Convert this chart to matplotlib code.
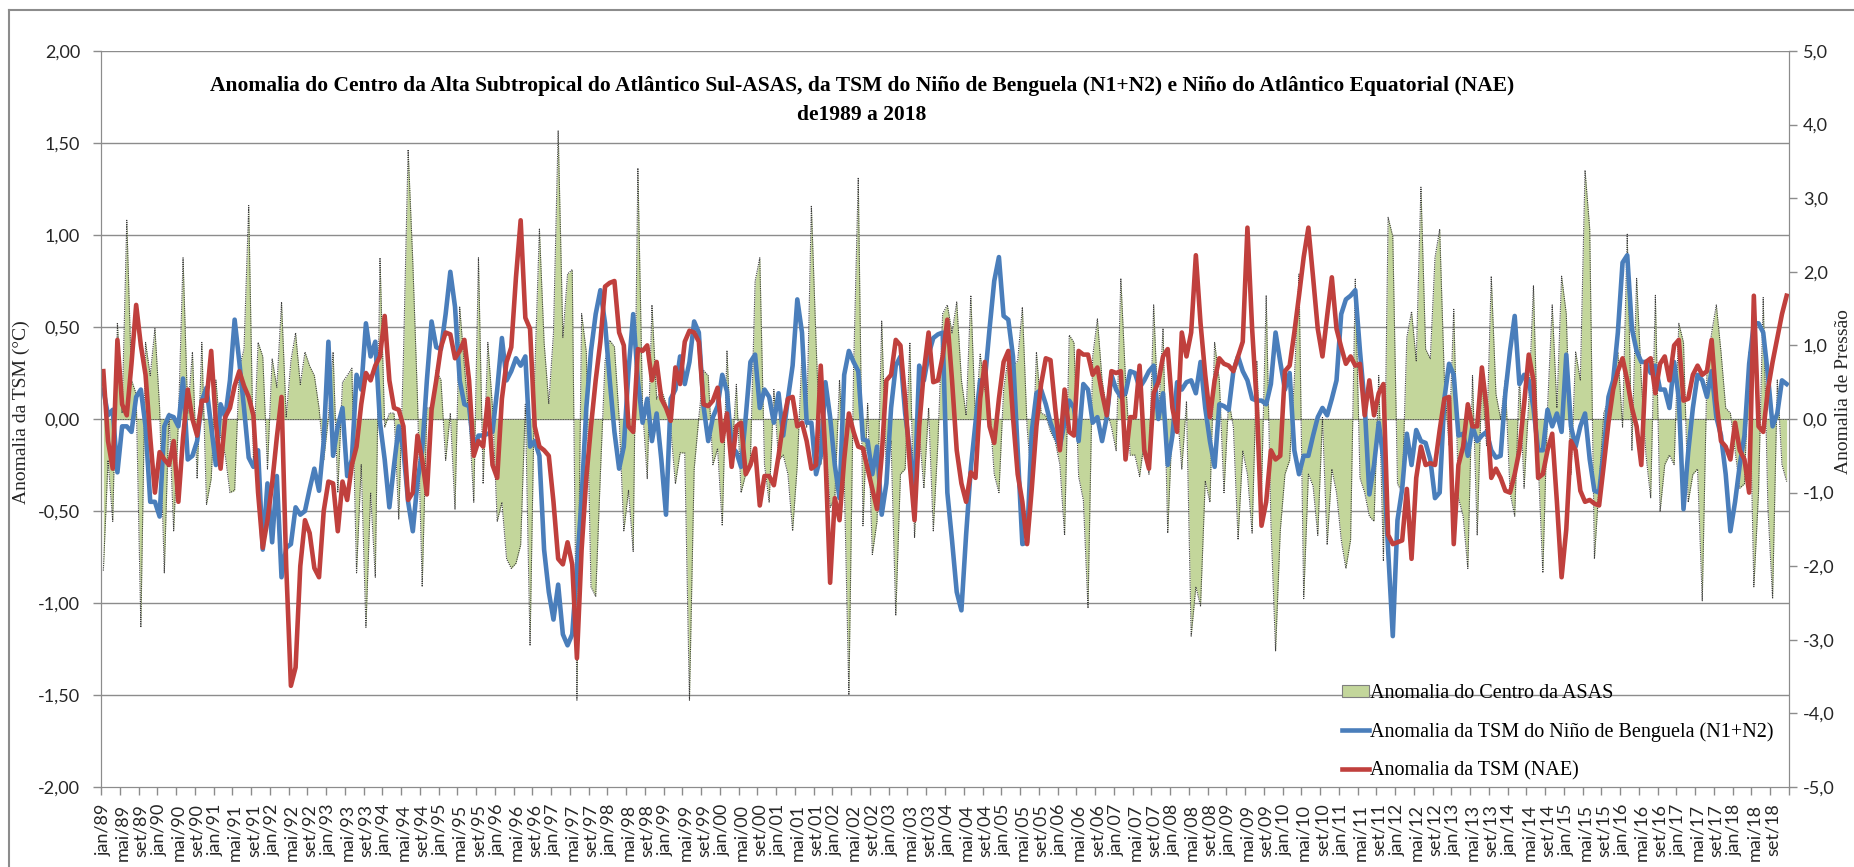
import matplotlib
matplotlib.use("Agg")
import matplotlib.pyplot as plt
import numpy as np
from matplotlib.ticker import FixedLocator, FuncFormatter

# monthly anomalies jan/1989 .. dez/2018, one row per year
nae = [
    0.26, -0.12, -0.27, 0.43, 0.08, 0.02, 0.30, 0.62, 0.40, 0.24, -0.10, -0.40,
    -0.18, -0.22, -0.25, -0.12, -0.45, -0.10, 0.16, 0.00, -0.09, 0.10, 0.10, 0.37,
    -0.02, -0.27, 0.01, 0.06, 0.18, 0.26, 0.18, 0.12, 0.02, -0.40, -0.70, -0.55,
    -0.35, -0.10, 0.12, -0.80, -1.45, -1.35, -0.80, -0.55, -0.62, -0.81, -0.86, -0.50,
    -0.34, -0.35, -0.61, -0.34, -0.44, -0.25, -0.15, 0.08, 0.25, 0.21, 0.29, 0.34,
    0.56, 0.21, 0.06, 0.05, -0.04, -0.44, -0.40, -0.09, -0.22, -0.41, 0.05, 0.21,
    0.39, 0.47, 0.46, 0.33, 0.37, 0.43, 0.21, -0.20, -0.12, -0.15, 0.11, -0.25,
    -0.32, 0.11, 0.31, 0.39, 0.77, 1.08, 0.55, 0.49, -0.04, -0.15, -0.17, -0.20,
    -0.45, -0.76, -0.79, -0.67, -0.79, -1.30, -0.71, -0.32, -0.04, 0.21, 0.42, 0.72,
    0.74, 0.75, 0.47, 0.40, -0.04, -0.07, 0.38, 0.37, 0.40, 0.21, 0.31, 0.11,
    0.06, -0.01, 0.28, 0.19, 0.42, 0.48, 0.47, 0.42, 0.08, 0.07, 0.10, 0.17,
    -0.12, 0.03, -0.26, -0.04, -0.02, -0.30, -0.25, -0.16, -0.47, -0.31, -0.31, -0.36,
    -0.20, -0.02, 0.11, 0.12, -0.04, -0.02, -0.12, -0.27, -0.25, 0.29, -0.20, -0.89,
    -0.43, -0.55, -0.22, 0.03, -0.07, -0.15, -0.16, -0.27, -0.38, -0.49, -0.20, 0.21,
    0.24, 0.43, 0.40, 0.11, -0.25, -0.55, -0.04, 0.26, 0.47, 0.20, 0.21, 0.34,
    0.54, 0.21, -0.17, -0.35, -0.45, -0.29, -0.32, 0.11, 0.31, -0.04, -0.13, 0.11,
    0.31, 0.37, 0.01, -0.30, -0.45, -0.68, -0.38, -0.04, 0.19, 0.33, 0.32, 0.06,
    -0.17, 0.16, -0.07, -0.09, 0.37, 0.35, 0.35, 0.24, 0.28, 0.14, 0.02, 0.26,
    0.25, 0.26, -0.22, 0.01, 0.01, 0.29, -0.17, -0.27, 0.14, 0.20, 0.34, 0.38,
    0.06, -0.07, 0.47, 0.34, 0.47, 0.89, 0.52, 0.24, 0.01, 0.21, 0.33, 0.30,
    0.29, 0.26, 0.34, 0.42, 1.04, 0.49, 0.08, -0.58, -0.45, -0.17, -0.22, -0.20,
    0.26, 0.29, 0.47, 0.67, 0.88, 1.04, 0.77, 0.49, 0.34, 0.56, 0.77, 0.49,
    0.39, 0.30, 0.34, 0.29, 0.30, 0.02, 0.21, 0.02, 0.14, 0.19, -0.63, -0.68,
    -0.67, -0.66, -0.38, -0.76, -0.32, -0.15, -0.25, -0.24, -0.25, -0.06, 0.11, 0.12,
    -0.68, -0.25, -0.15, 0.08, -0.04, -0.04, 0.28, 0.06, -0.32, -0.27, -0.32, -0.39,
    -0.40, -0.30, -0.17, 0.08, 0.35, 0.21, -0.32, -0.30, -0.17, -0.08, -0.45, -0.86,
    -0.60, -0.12, -0.17, -0.39, -0.45, -0.44, -0.46, -0.47, -0.25, -0.02, 0.16, 0.26,
    0.33, 0.21, 0.06, -0.04, -0.25, 0.31, 0.33, 0.14, 0.30, 0.34, 0.21, 0.40,
    0.43, 0.10, 0.11, 0.24, 0.29, 0.24, 0.26, 0.43, 0.10, -0.12, -0.15, -0.22,
    -0.02, -0.17, -0.22, -0.40, 0.67, -0.04, -0.07, 0.16, 0.31, 0.44, 0.57, 0.67,
]

n1n2 = [
    0.16, 0.02, 0.05, -0.29, -0.04, -0.04, -0.07, 0.12, 0.16, -0.04, -0.45, -0.45,
    -0.53, -0.04, 0.02, 0.01, -0.04, 0.22, -0.22, -0.20, -0.12, 0.10, 0.17, -0.04,
    -0.25, 0.08, 0.01, 0.21, 0.54, 0.31, 0.06, -0.21, -0.26, -0.17, -0.71, -0.35,
    -0.67, -0.31, -0.86, -0.70, -0.68, -0.48, -0.52, -0.50, -0.38, -0.27, -0.39, -0.12,
    0.42, -0.20, -0.04, 0.06, -0.31, -0.22, 0.24, 0.16, 0.52, 0.34, 0.42, -0.02,
    -0.22, -0.48, -0.25, -0.04, -0.17, -0.45, -0.61, -0.34, -0.17, 0.21, 0.53, 0.39,
    0.38, 0.57, 0.80, 0.61, 0.21, 0.08, 0.07, -0.17, -0.09, -0.09, -0.08, -0.07,
    0.16, 0.44, 0.21, 0.26, 0.33, 0.29, 0.34, -0.15, -0.12, -0.20, -0.71, -0.94,
    -1.09, -0.90, -1.17, -1.23, -1.17, -0.81, -0.43, 0.06, 0.37, 0.57, 0.70, 0.52,
    0.21, -0.07, -0.27, -0.15, 0.26, 0.57, 0.21, -0.02, 0.11, -0.12, 0.03, -0.22,
    -0.52, 0.11, 0.16, 0.34, 0.19, 0.31, 0.53, 0.47, 0.07, -0.12, 0.01, 0.07,
    0.24, 0.15, -0.15, -0.18, -0.26, 0.01, 0.31, 0.35, 0.06, 0.16, 0.12, -0.02,
    0.14, -0.09, 0.11, 0.29, 0.65, 0.47, -0.02, -0.02, -0.30, -0.20, 0.20, 0.01,
    -0.25, -0.43, 0.24, 0.37, 0.31, 0.26, -0.11, -0.12, -0.30, -0.15, -0.52, -0.35,
    0.06, 0.29, 0.34, 0.03, -0.17, -0.40, 0.29, 0.21, 0.35, 0.44, 0.46, 0.47,
    -0.40, -0.66, -0.94, -1.04, -0.63, -0.27, -0.02, 0.21, 0.21, 0.49, 0.75, 0.88,
    0.56, 0.54, 0.34, -0.17, -0.68, -0.67, -0.07, 0.14, 0.16, 0.08, -0.02, -0.09,
    -0.15, -0.02, 0.10, 0.06, -0.12, 0.19, 0.16, -0.02, 0.01, -0.12, 0.01, 0.24,
    0.16, 0.12, 0.14, 0.26, 0.25, 0.17, 0.21, 0.26, 0.29, 0.00, 0.14, -0.25,
    -0.09, 0.20, 0.16, 0.20, 0.21, 0.14, 0.31, 0.06, -0.12, -0.26, 0.08, 0.07,
    0.05, 0.26, 0.34, 0.26, 0.21, 0.11, 0.10, 0.10, 0.08, 0.19, 0.47, 0.31,
    0.16, 0.25, -0.17, -0.30, -0.20, -0.20, -0.09, 0.01, 0.06, 0.02, 0.11, 0.21,
    0.57, 0.65, 0.67, 0.70, 0.37, 0.08, -0.41, -0.25, -0.02, -0.22, -0.71, -1.18,
    -0.55, -0.38, -0.08, -0.25, -0.06, -0.12, -0.13, -0.22, -0.43, -0.40, 0.11, 0.30,
    0.24, -0.09, -0.08, -0.20, -0.04, -0.12, -0.09, -0.07, -0.17, -0.21, -0.20, 0.14,
    0.37, 0.56, 0.19, 0.24, 0.21, 0.06, -0.17, -0.17, 0.05, -0.04, 0.03, -0.07,
    0.35, -0.04, -0.15, -0.04, 0.03, -0.22, -0.39, -0.40, -0.17, 0.12, 0.21, 0.47,
    0.85, 0.89, 0.49, 0.37, 0.31, 0.31, 0.25, 0.29, 0.16, 0.16, 0.06, 0.31,
    0.11, -0.49, -0.18, 0.06, 0.24, 0.21, 0.12, 0.26, 0.01, -0.09, -0.30, -0.61,
    -0.45, -0.25, -0.09, 0.30, 0.52, 0.52, 0.47, 0.24, -0.04, 0.03, 0.21, 0.19,
]

asas = [
    -2.06, -0.56, -1.39, 1.31, 0.08, 2.70, 0.53, 0.34, -2.83, 1.04, 0.59, 1.23,
    0.15, -2.09, 0.08, -1.52, -0.04, 2.19, 0.08, 0.91, -0.81, 1.04, -1.16, -0.81,
    0.53, -0.24, -0.49, -1.00, -0.97, 0.69, 0.95, 2.90, -0.56, 1.04, 0.85, -0.68,
    0.82, 0.43, 1.59, 0.02, 0.79, 1.17, 0.47, 0.91, 0.72, 0.59, 0.15, -0.56,
    0.02, 0.91, -1.00, 0.50, 0.59, 0.69, -2.09, -0.62, -2.83, -1.00, -2.15, 2.19,
    -0.11, 0.08, 0.08, -1.36, 0.85, 3.66, 2.13, 0.27, -2.28, 0.15, 0.15, 0.66,
    0.53, -0.56, 0.08, -1.23, 1.52, 0.72, 0.02, -1.13, 2.19, -0.88, 1.04, 0.15,
    -1.39, -1.13, -1.90, -2.03, -1.96, -1.71, 0.20, -3.08, 0.60, 2.58, 1.04, 0.21,
    1.17, 3.92, 1.11, 1.97, 2.03, -3.82, 1.43, 0.91, -2.28, -2.41, -0.75, 0.79,
    1.07, 0.98, 0.02, -1.52, -0.97, -1.80, 3.41, 0.15, -0.81, 1.55, 0.27, 0.40,
    0.21, -0.11, -0.88, -0.46, -0.46, -3.82, -0.68, 0.02, 0.66, 0.59, -0.62, -0.40,
    -1.45, 0.93, -0.56, 0.47, -1.00, -0.75, -0.56, 1.87, 2.19, -0.62, -1.13, 0.40,
    -0.56, -0.49, -0.75, -1.52, -0.62, 0.91, -0.11, 2.90, 1.04, -0.62, -0.24, -1.20,
    -1.07, 0.53, -0.75, -3.75, 0.66, 3.28, -1.45, 0.21, -1.84, -1.39, 1.33, -0.75,
    -0.30, -2.67, -0.75, -0.68, 1.04, -1.61, -0.17, -0.94, 0.15, -1.52, -0.30, 1.43,
    1.55, 1.17, 1.59, 0.53, 0.05, 1.68, -0.04, 0.88, 0.40, 0.15, -0.75, -1.00,
    0.40, 0.85, 0.72, 0.79, 1.52, -0.11, -0.88, 0.91, 0.08, 0.05, -0.17, -0.30,
    -0.62, -1.58, 1.14, 1.04, -0.78, -1.10, -2.57, 0.85, 1.36, 0.53, 0.12, -0.11,
    -0.43, 1.91, 0.53, -0.49, -0.49, -0.78, -0.30, -0.75, 1.55, 0.00, 1.23, -1.55,
    0.00, 0.15, -0.68, 0.24, -2.95, -2.28, -2.54, -0.84, -1.13, 1.04, 0.53, -1.00,
    0.27, -0.11, -1.64, -0.43, -0.75, -1.55, 0.79, -1.00, 1.68, -1.39, -3.15, -1.52,
    -0.75, -0.56, 0.53, 1.97, -2.44, -0.75, -0.91, -1.58, 0.02, -1.71, -0.68, -1.00,
    -1.64, -2.03, -1.64, 1.90, -0.80, -1.00, -1.32, -1.39, 0.59, -1.93, 2.74, 2.48,
    -0.88, -1.00, 1.11, 1.46, 0.79, 3.15, 0.95, 0.82, 2.19, 2.58, 0.53, -0.36,
    1.49, -1.07, -1.32, -2.03, 0.59, -1.58, 0.59, -0.36, 1.94, 0.34, 0.00, 0.53,
    -1.00, -1.32, 0.59, -0.94, 0.24, 1.81, -0.56, -2.09, 0.15, 1.55, 0.15, 1.94,
    1.43, -0.75, 0.91, 0.53, 3.38, 2.58, -1.90, -0.88, 0.08, 0.27, 0.53, 0.91,
    -0.11, 2.51, -0.43, 1.91, 0.53, -0.49, -1.07, 1.68, -1.26, -0.62, -0.49, -0.62,
    1.30, 1.04, -1.13, -0.75, -0.68, -2.47, 0.66, 1.17, 1.55, 0.91, 0.15, 0.08,
    -0.43, -0.94, -0.88, 0.91, -2.28, -1.00, 1.65, -1.20, -2.44, 0.53, -0.62, -0.85,
]

meses = ["jan", "fev", "mar", "abr", "mai", "jun", "jul", "ago", "set", "out", "nov", "dez"]
anos = list(range(1989, 2019))
rotulos = [f"{m}/{a % 100:02d}" for a in anos for m in meses]

W, H = 1854, 867
fig = plt.figure(figsize=(W / 100, H / 100), dpi=100)
tick_font = "Lato"
serif = "Liberation Serif"

x = np.arange(len(nae))
ax = fig.add_axes([101 / W, 1 - 787 / H, (1789 - 101) / W, (787 - 51) / H])
ax2 = ax.twinx()
ax.set_zorder(ax2.get_zorder() + 1)
ax.patch.set_visible(False)

# gridlines behind the area (left-axis levels expressed on the right scale)
for g in np.arange(-1.5, 2.01, 0.5):
    ax2.axhline(g * 2.5, color="#8c8c8c", lw=1.0, zorder=0)

ax2.fill_between(x, 0, asas, facecolor="#c3d69b", edgecolor="#6e6e6e", lw=0, zorder=1,
                 label="Anomalia do Centro da ASAS")
ax2.plot(x, asas, color="#3a3a3a", lw=0.8, ls=(0, (1, 1)), zorder=2)
ax2.axhline(0, color="#3a3a3a", lw=0.6, ls=(0, (1, 1)), zorder=2)

ax.plot(x, n1n2, color="#4a7ebb", lw=3.3, solid_joinstyle="round",
        label="Anomalia da TSM do Niño de Benguela (N1+N2)")
ax.plot(x, nae, color="#c0403d", lw=3.3, solid_joinstyle="round",
        label="Anomalia da TSM (NAE)")

ax.set_xlim(-0.5, len(nae) - 0.5)
ax.set_ylim(-2, 2)
ax2.set_ylim(-5, 5)

virg2 = FuncFormatter(lambda v, p: f"{v:.2f}".replace(".", ","))
virg1 = FuncFormatter(lambda v, p: f"{v:.1f}".replace(".", ","))
ax.yaxis.set_major_locator(FixedLocator(np.arange(-2, 2.01, 0.5)))
ax.yaxis.set_major_formatter(virg2)
ax2.yaxis.set_major_locator(FixedLocator(np.arange(-5, 5.01, 1)))
ax2.yaxis.set_major_formatter(virg1)

# boundaries every 4 months carry tick marks, labels sit on the category
ax.xaxis.set_major_locator(FixedLocator(np.arange(-0.5, len(nae), 4)))
ax.set_xticklabels([])
ax.set_xticks(np.arange(0, len(nae), 4), minor=True)
ax.set_xticklabels(rotulos[::4], minor=True, rotation=90, fontsize=13,
                   family=tick_font, color="#262626")
ax.tick_params(axis="x", which="major", length=6, width=1, color="#8c8c8c", direction="out")
ax.tick_params(axis="x", which="minor", length=0, pad=12)
ax.tick_params(axis="y", length=6, width=1, color="#8c8c8c", pad=9,
               labelsize=13, labelcolor="#262626")
ax2.tick_params(axis="y", length=6, width=1, color="#8c8c8c", pad=4,
                labelsize=13, labelcolor="#262626")
for t in ax.get_yticklabels() + ax2.get_yticklabels():
    t.set_family(tick_font)

for a in (ax, ax2):
    for s in a.spines.values():
        s.set_color("#8c8c8c")
    a.spines["top"].set_visible(False)

ax.set_ylabel("Anomalia da TSM (°C)", family=serif, fontsize=14, color="#262626")
ax.yaxis.set_label_coords(-0.042, 0.51)
fig.text(1852 / W, 1 - 392 / H, "Anomalia de Pressão", rotation=90, ha="right",
         va="center", family=serif, fontsize=14, color="#262626")

fig.text(862 / W, 1 - 101 / H,
         "Anomalia do Centro da Alta Subtropical do Atlântico Sul-ASAS, da TSM do Niño de "
         "Benguela (N1+N2) e Niño do Atlântico Equatorial (NAE)\nde1989 a 2018",
         ha="center", va="center", multialignment="center", family=serif,
         fontweight="bold", fontsize=15.5, linespacing=1.6)

h1, l1 = ax2.get_legend_handles_labels()
h2, l2 = ax.get_legend_handles_labels()
leg = ax.legend(h1 + h2, l1 + l2, loc="upper left",
                bbox_to_anchor=(1332 / W, 1 - 674 / H), bbox_transform=fig.transFigure,
                frameon=False, prop={"family": serif, "size": 14.5},
                handlelength=1.35, handleheight=0.5, handletextpad=0.05,
                labelspacing=0.95, borderpad=0)
leg.legend_handles[0].set_edgecolor("#7f7f7f")
leg.legend_handles[0].set_linewidth(0.8)

# chart-area frame
fig.add_artist(plt.Line2D([9 / W, 1], [1 - 10 / H, 1 - 10 / H], color="#8c8c8c", lw=1.5))
fig.add_artist(plt.Line2D([9 / W, 9 / W], [0, 1 - 10 / H], color="#8c8c8c", lw=1.5))

fig.savefig("out.png", dpi=100)
